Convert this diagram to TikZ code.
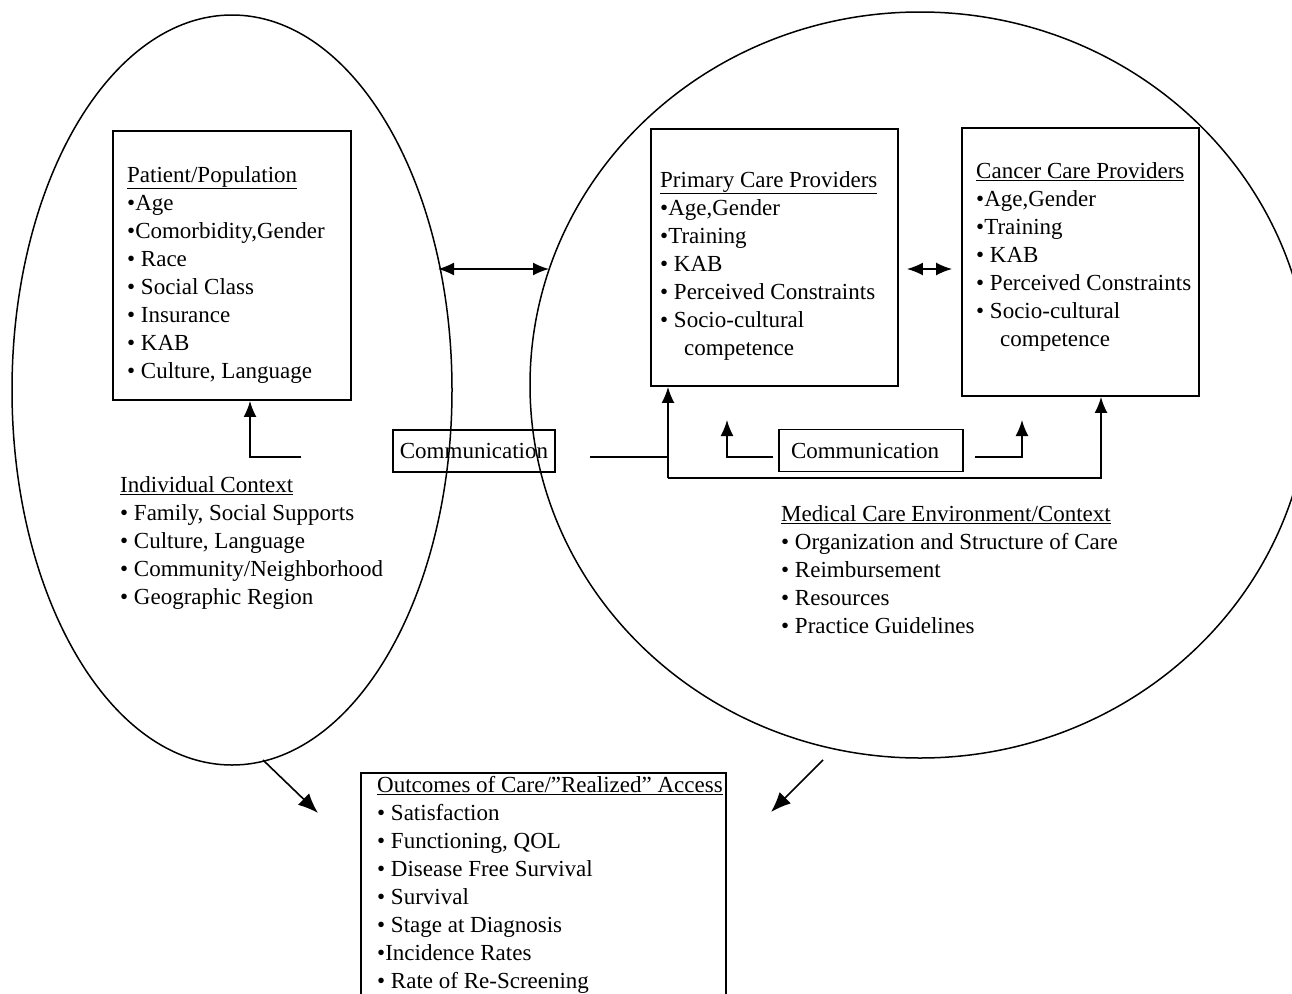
\documentclass[tikz,border=0pt]{standalone}
\usepackage{fontspec}
\setmainfont{Liberation Serif}
\usetikzlibrary{matrix, calc, arrows.meta}

\tikzset{
  box/.style={draw, line width=1.9pt, inner sep=0pt},
  list/.style={matrix of nodes, inner sep=0pt, anchor=north west, row sep=0pt,
    nodes={anchor=west, inner xsep=0pt, inner ysep=2pt, text height=19pt, text depth=5pt}},
  comm/.style={draw, line width=1.4pt, minimum height=42pt, inner xsep=7pt},
  link/.style={line width=1.6pt},
  arr/.style={link, -{Latex[length=16pt,width=13pt]}},
  bigarr/.style={link, -{Latex[length=20pt,width=16pt]}},
  both/.style={link, {Latex[length=16pt,width=13pt]}-{Latex[length=16pt,width=13pt]}},
}

\begin{document}
\begin{tikzpicture}[x=1pt, y=-1pt, font=\fontsize{23}{28}\selectfont]
  \useasboundingbox (0,0) rectangle (1292,993);
  \clip (0,0) rectangle (1292,993);
% the two contexts
  \draw[line width=1.5pt] (232,390) ellipse [x radius=220pt, y radius=375pt];
  \draw[line width=1.5pt] (920,385) ellipse [x radius=390pt, y radius=373pt];
% boxes
  \node[box, minimum width=238pt, minimum height=269pt] (patient) at (232,265.5) {};
  \node[box, minimum width=247pt, minimum height=257pt] (primary) at (774.5,257.5) {};
  \node[box, minimum width=237pt, minimum height=268pt] (cancer) at (1080.5,262) {};
  \node[box, minimum width=365pt, minimum height=247pt] (outcome) at (543.5,896.5) {};
  \node[comm, minimum width=162pt] (comm1) at (474,451) {Communication};
  \node[comm, inner xsep=12pt, text width=160pt, align=left] (comm2) at (871,450.5) {Communication};
% lists
  \matrix[list] (patientlist) at (127,161) {
    \underline{Patient/Population} \\
    •Age \\
    •Comorbidity,Gender \\
    • Race \\
    • Social Class \\
    • Insurance \\
    • KAB \\
    • Culture, Language \\
  };
  \matrix[list] (primarylist) at (660,166) {
    \underline{Primary Care Providers} \\
    •Age,Gender \\
    •Training \\
    • KAB \\
    • Perceived Constraints \\
    • Socio-cultural \\
    \hspace*{24pt}competence \\
  };
  \matrix[list] (cancerlist) at (976,157) {
    \underline{Cancer Care Providers} \\
    •Age,Gender \\
    •Training \\
    • KAB \\
    • Perceived Constraints \\
    • Socio-cultural \\
    \hspace*{24pt}competence \\
  };
  \matrix[list] (indivlist) at (120,471) {
    \underline{Individual Context} \\
    • Family, Social Supports \\
    • Culture, Language \\
    • Community/Neighborhood \\
    • Geographic Region \\
  };
  \matrix[list] (medlist) at (781,500) {
    \underline{Medical Care Environment/Context} \\
    • Organization and Structure of Care \\
    • Reimbursement \\
    • Resources \\
    • Practice Guidelines \\
  };
  \matrix[list] (outlist) at (377,771) {
    \underline{Outcomes of Care/”Realized” Access} \\
    • Satisfaction \\
    • Functioning, QOL \\
    • Disease Free Survival \\
    • Survival \\
    • Stage at Diagnosis \\
    •Incidence Rates \\
    • Rate of Re-Screening \\
  };
% connectors
  \coordinate (ctx) at (301,457);
  \draw[arr] (ctx) -| ([xshift=18pt]patient.south);
  \coordinate (lnk) at (438,269);
  \coordinate (rnk) at (549,269);
  \draw[both] (lnk) -- (rnk);
  \draw[both] ([xshift=8pt]primary.east |- rnk) -- ([xshift=-9pt]cancer.west |- rnk);
  \coordinate (env) at (590,457);
  \coordinate (foot) at (668,478);
  \draw[link] (env) -- (env -| foot);
  \draw[arr] (foot) -- (foot |- primary.south);
  \draw[arr] (foot) -| ([xshift=20.5pt]cancer.south);
  \coordinate (cl) at (773,457);
  \coordinate (cle) at (727,420);
  \draw[arr] (cl) -| (cle);
  \coordinate (cr) at (975,457);
  \coordinate (cre) at (1022,420);
  \draw[arr] (cr) -| (cre);
% towards outcomes
  \coordinate (ls) at (263,760);
  \coordinate (le) at (318,813);
  \draw[bigarr] (ls) -- (le);
  \coordinate (rs) at (823,760);
  \coordinate (re) at (771,812);
  \draw[bigarr] (rs) -- (re);
\end{tikzpicture}
\end{document}
